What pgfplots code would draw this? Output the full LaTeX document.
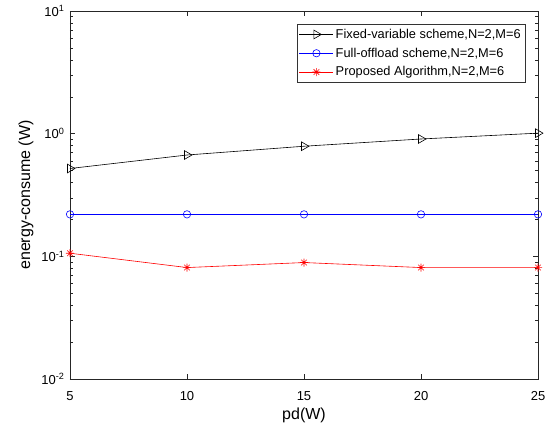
\documentclass[border=0pt]{standalone}
\usepackage{fontspec}
\setmainfont{Liberation Sans}
\usepackage{pgfplots}
\pgfplotsset{compat=1.18}
% MATLAB style '*' marker: eight arms
\pgfdeclareplotmark{mstar}{%
  \pgfpathmoveto{\pgfpointpolar{0}{\pgfplotmarksize}}\pgfpathlineto{\pgfpointpolar{180}{\pgfplotmarksize}}%
  \pgfpathmoveto{\pgfpointpolar{90}{\pgfplotmarksize}}\pgfpathlineto{\pgfpointpolar{270}{\pgfplotmarksize}}%
  \pgfpathmoveto{\pgfpointpolar{45}{\pgfplotmarksize}}\pgfpathlineto{\pgfpointpolar{225}{\pgfplotmarksize}}%
  \pgfpathmoveto{\pgfpointpolar{135}{\pgfplotmarksize}}\pgfpathlineto{\pgfpointpolar{315}{\pgfplotmarksize}}%
  \pgfusepathqstroke}
\begin{document}
\begin{tikzpicture}
\path[use as bounding box] (-70pt,-49pt) rectangle (484pt,379pt);
\begin{axis}[
    at={(0,0)}, anchor=south west,
    scale only axis,
    width=468pt, height=368pt,
    ymode=log,
    xmin=5, xmax=25,
    ymin=1e-2, ymax=1e1,
    xtick={5,10,15,20,25},
    ytick={1e-2,1e-1,1e0,1e1},
    yticklabels={10\textsuperscript{-2},10\textsuperscript{-1},10\textsuperscript{0},10\textsuperscript{1}},
    /pgf/number format/assume math mode=true,
    tick align=inside,
    major tick length=5pt,
    minor tick length=3pt,
    axis line style={black!85},
    every tick/.style={black!85},
    xlabel={pd(W)},
    ylabel={energy-consume (W)},
    tick label style={font=\fontsize{13}{15}\selectfont},
    xticklabel style={anchor=base, yshift=-21pt},
    yticklabel style={xshift=-2pt},
    label style={font=\fontsize{16}{18}\selectfont},
    xlabel style={at={(axis description cs:0.5,-0.111)}, anchor=base},
    ylabel style={at={(axis description cs:-0.094,0.5)}, anchor=center},
    legend style={at={(0.972,0.965)}, anchor=north east,
        font=\fontsize{12.8}{14}\selectfont, draw=black!80,
        row sep=4pt, inner xsep=2pt, inner ysep=3pt},
    legend cell align=left,
    legend image code/.code={%
        \draw[mark repeat=2, mark phase=2, #1] plot coordinates {(0pt,0pt) (17pt,0pt) (34pt,0pt)};},
]
\addplot[black, line width=0.6pt, mark=triangle, mark size=5pt,
    mark options={rotate=-90, solid, fill=none}] coordinates {
    (5,0.52) (10,0.67) (15,0.79) (20,0.905) (25,1.01)
};
\addlegendentry{Fixed-variable scheme,N=2,M=6}
\addplot[blue, line width=0.6pt, mark=o, mark size=3.7pt] coordinates {
    (5,0.22) (10,0.22) (15,0.22) (20,0.22) (25,0.22)
};
\addlegendentry{Full-offload scheme,N=2,M=6}
\addplot[red, line width=0.6pt, mark=mstar, mark size=4pt] coordinates {
    (5,0.106) (10,0.081) (15,0.089) (20,0.081) (25,0.081)
};
\addlegendentry{Proposed Algorithm,N=2,M=6}
\end{axis}
\end{tikzpicture}
\end{document}
